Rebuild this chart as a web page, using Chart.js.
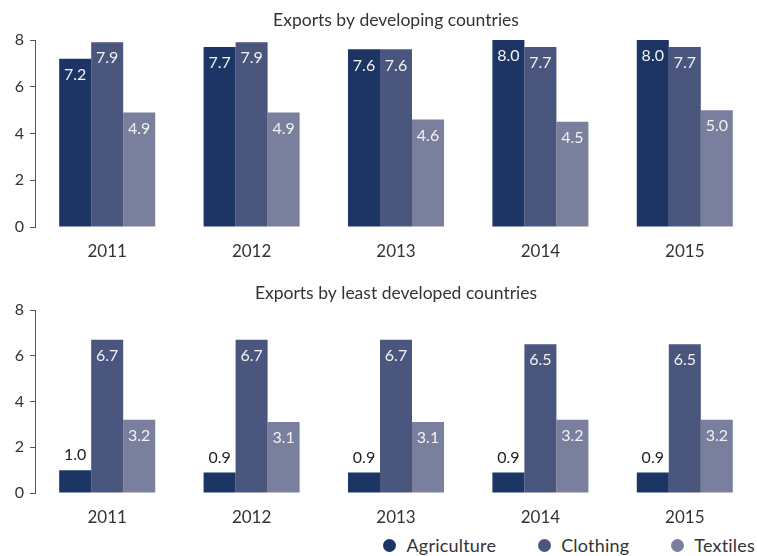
<!DOCTYPE html>
<html>
<head>
<meta charset="utf-8">
<title>Exports</title>
<script src="https://cdn.jsdelivr.net/npm/chart.js@4.4.1/dist/chart.umd.min.js"></script>
<style>
  body { margin: 0; background: #fff; width: 757px; height: 556px; overflow: hidden; position: relative; font-family: Lato, sans-serif; }
  canvas { position: absolute; left: 0; }
  #devChart { top: 0; }
  #ldcChart { top: 270px; }
  #legend { position: absolute; right: 2px; top: 534px; display: flex; align-items: center; font-size: 18px; letter-spacing: 0.2px; color: #333; }
  #legend .item { display: flex; align-items: center; margin-left: 42px; }
  #legend .dot { width: 13px; height: 13px; border-radius: 50%; margin-right: 10px; }
</style>
</head>
<body>
<canvas id="devChart" width="757" height="270"></canvas>
<canvas id="ldcChart" width="757" height="260"></canvas>
<div id="legend"></div>

<script>
const years = ["2011", "2012", "2013", "2014", "2015"];
const seriesNames = ["Agriculture", "Clothing", "Textiles"];
const seriesColors = ["#1c3564", "#4a567e", "#7b7f9e"];

// developing countries
const devAgriculture = [7.2, 7.7, 7.6, 8.0, 8.0];
const devClothing = [7.9, 7.9, 7.6, 7.7, 7.7];
const devTextiles = [4.9, 4.9, 4.6, 4.5, 5.0];

// least developed countries
const ldcAgriculture = [1.0, 0.9, 0.9, 0.9, 0.9];
const ldcClothing = [6.7, 6.7, 6.7, 6.5, 6.5];
const ldcTextiles = [3.2, 3.1, 3.1, 3.2, 3.2];

const yMin = 0;
const yMax = 8;
const yStep = 2;

const FONT = "Lato";
const TEXT = "#333";

// value labels: white inside tall bars, dark above short ones
const valueLabels = {
  id: "valueLabels",
  afterDatasetsDraw(chart) {
    const ctx = chart.ctx;
    ctx.save();
    ctx.font = "16px " + FONT;
    ctx.textAlign = "center";
    ctx.textBaseline = "middle";
    chart.data.datasets.forEach((ds, i) => {
      chart.getDatasetMeta(i).data.forEach((bar, j) => {
        const v = ds.data[j];
        if (v >= 2) {
          ctx.fillStyle = "#f2f2f2";
          ctx.fillText(v.toFixed(1), bar.x, bar.y + 16);
        } else {
          ctx.fillStyle = "#222";
          ctx.fillText(v.toFixed(1), bar.x, bar.y - 15);
        }
      });
    });
    ctx.restore();
  }
};

function makeChart(id, title, values, titlePad, xHeight) {
  const ctx = document.getElementById(id).getContext("2d");
  return new Chart(ctx, {
    type: "bar",
    data: {
      labels: years,
      datasets: values.map((data, i) => ({
        label: seriesNames[i],
        data,
        backgroundColor: seriesColors[i],
        borderWidth: 0,
        categoryPercentage: 0.665,
        barPercentage: 1.0
      }))
    },
    options: {
      responsive: false,
      animation: false,
      layout: { padding: { left: 0, right: 0, top: 0, bottom: 0 } },
      plugins: {
        legend: { display: false },
        tooltip: { enabled: false },
        title: {
          display: true,
          fullSize: false,
          text: title,
          color: TEXT,
          font: { family: FONT, size: 17.5, weight: "normal", lineHeight: 1.0 },
          padding: titlePad
        }
      },
      scales: {
        x: {
          grid: { display: false },
          border: { display: false },
          ticks: { color: TEXT, font: { family: FONT, size: 17 }, padding: 6 },
          afterFit(scale) { scale.height = xHeight; }
        },
        y: {
          min: yMin,
          max: yMax,
          ticks: { stepSize: yStep, color: TEXT, font: { family: FONT, size: 16 }, padding: 6 },
          grid: { drawOnChartArea: false, drawTicks: true, tickLength: 5, color: "#555" },
          border: { display: true, color: "#555" },
          afterFit(scale) { scale.width = 35; }
        }
      }
    },
    plugins: [valueLabels]
  });
}

makeChart("devChart", "Exports by developing countries",
  [devAgriculture, devClothing, devTextiles], { top: 11.25, bottom: 11.25 }, 43);
makeChart("ldcChart", "Exports by least developed countries",
  [ldcAgriculture, ldcClothing, ldcTextiles], { top: 14.25, bottom: 8.25 }, 37);

// legend
const legend = document.getElementById("legend");
seriesNames.forEach((name, i) => {
  const item = document.createElement("div");
  item.className = "item";
  item.innerHTML = `<span class="dot" style="background:${seriesColors[i]}"></span><span>${name}</span>`;
  legend.appendChild(item);
});
</script>
</body>
</html>
